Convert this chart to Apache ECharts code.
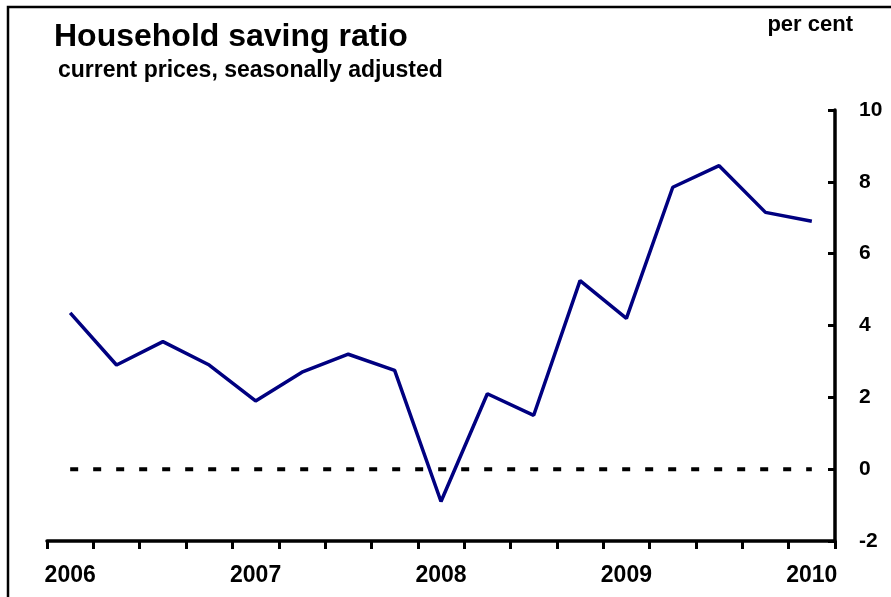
<!DOCTYPE html>
<html>
<head>
<meta charset="utf-8">
<script src="https://cdn.jsdelivr.net/npm/echarts@6/dist/echarts.min.js"></script>
<style>
html,body{margin:0;padding:0;background:#fff;}
#chart{width:891px;height:597px;}
</style>
</head>
<body>
<div id="chart"></div>
<script>
var quarters = ['2006 Q1','2006 Q2','2006 Q3','2006 Q4','2007 Q1','2007 Q2','2007 Q3','2007 Q4','2008 Q1','2008 Q2','2008 Q3','2008 Q4','2009 Q1','2009 Q2','2009 Q3','2009 Q4','2010 Q1'];
var savingRatio = [4.35, 2.9, 3.55, 2.9, 1.9, 2.7, 3.2, 2.75, -0.9, 2.1, 1.5, 5.25, 4.2, 7.85, 8.45, 7.15, 6.9];
var zeroLine = [0, 0, 0, 0, 0, 0, 0, 0, 0, 0, 0, 0, 0, 0, 0, 0, 0];
var yTicks = { min: -2, max: 10, step: 2 };

var FONT = '"Liberation Sans", Arial, sans-serif';
var chart = echarts.init(document.getElementById('chart'), null, { renderer: 'canvas' });
chart.setOption({
  backgroundColor: '#fff',
  animation: false,
  title: [
    { text: 'Household saving ratio', left: 49, top: 16,
      textStyle: { fontFamily: FONT, fontSize: 32, fontWeight: 'bold', color: '#000' } },
    { text: 'current prices, seasonally adjusted', left: 53, top: 54,
      textStyle: { fontFamily: FONT, fontSize: 23, fontWeight: 'bold', color: '#000' } }
  ],
  graphic: [
    { type: 'rect', shape: { x: 8, y: 7, width: 900, height: 600 }, style: { fill: 'none', stroke: '#000', lineWidth: 2.5 }, silent: true },
    { type: 'text', x: 853, y: 25, style: { text: 'per cent', font: 'bold 22px ' + FONT, fill: '#000', textAlign: 'right', textVerticalAlign: 'middle' } }
  ],
  grid: { left: 47, right: 56, top: 110, bottom: 56, containLabel: false },
  xAxis: {
    type: 'category',
    data: quarters,
    boundaryGap: true,
    axisLine: { show: true, onZero: false, lineStyle: { color: '#000', width: 3.5 } },
    axisTick: { show: true, interval: 0, length: 8, lineStyle: { color: '#000', width: 3 } },
    axisLabel: { interval: 3, margin: 23, color: '#000', fontFamily: FONT, fontSize: 23, fontWeight: 'bold',
      formatter: function (v) { return v.slice(0, 4); } },
    splitLine: { show: false }
  },
  yAxis: {
    type: 'value',
    position: 'right',
    min: yTicks.min, max: yTicks.max, interval: yTicks.step,
    axisLine: { show: true, lineStyle: { color: '#000', width: 3.5 } },
    axisTick: { show: true, inside: true, length: 7, lineStyle: { color: '#000', width: 3 } },
    axisLabel: { margin: 24, color: '#000', fontFamily: FONT, fontSize: 21, fontWeight: 'bold' },
    splitLine: { show: false }
  },
  series: [
    { type: 'line', data: zeroLine, symbol: 'none', z: 1, silent: true,
      lineStyle: { color: '#000', width: 4, type: [8, 15] } },
    { type: 'line', data: savingRatio, symbol: 'none', z: 3,
      lineStyle: { color: '#000080', width: 3.5 } }
  ]
});
</script>
</body>
</html>
